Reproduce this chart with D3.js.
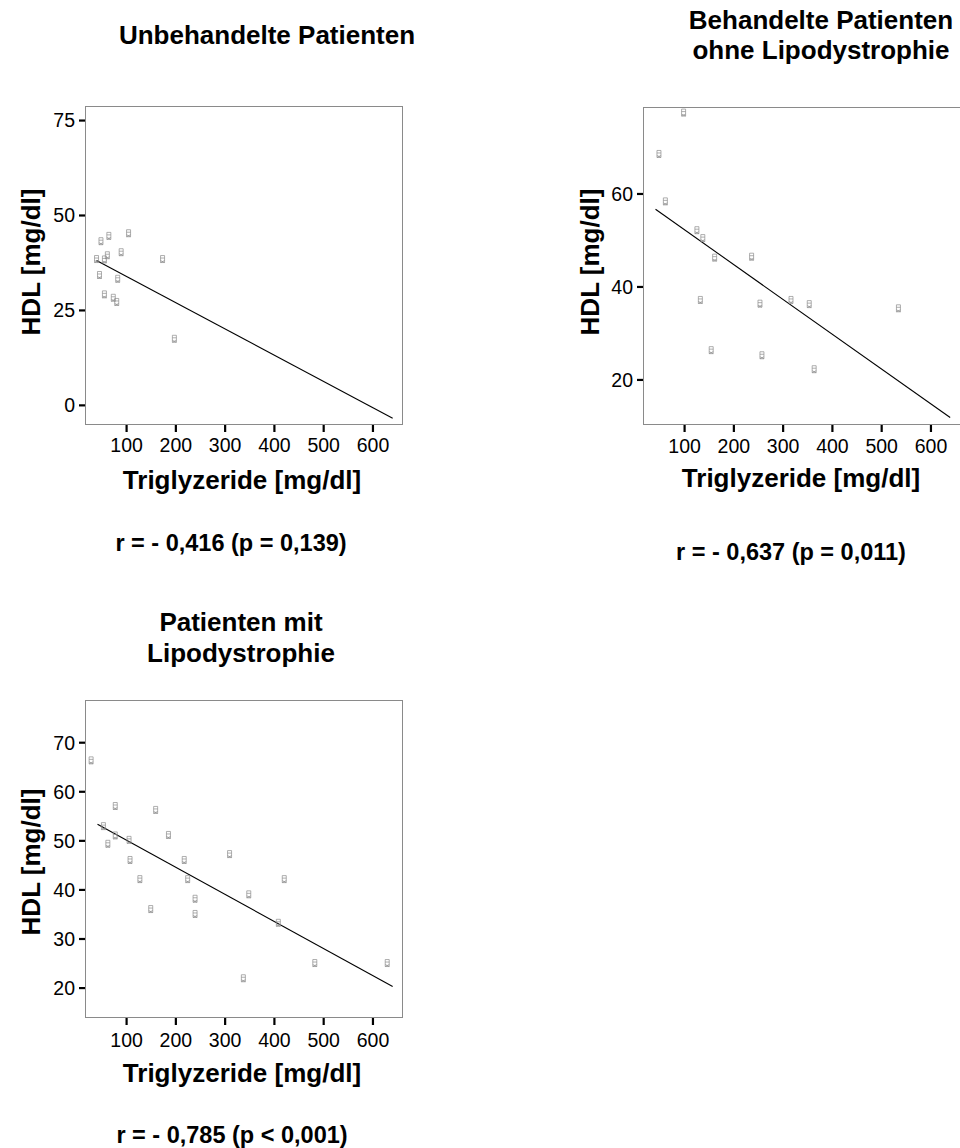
<!DOCTYPE html>
<html><head><meta charset="utf-8">
<script src="https://cdn.jsdelivr.net/npm/d3@7"></script>
<style>
body{margin:0;background:#fff}
svg{display:block}
text{font-family:"Liberation Sans",Arial,Helvetica,sans-serif;fill:#000}
</style>
</head><body>
<svg id="chart" width="960" height="1148"></svg>
<script>
// ---------- data ----------
const xTickValues = [100, 200, 300, 400, 500, 600];
const xAxisTitle = "Triglyzeride [mg/dl]";
const yAxisTitle = "HDL [mg/dl]";

// Panel 1: Unbehandelte Patienten
const p1Title = ["Unbehandelte Patienten"];
const p1TG  = [40, 49, 65, 105, 90, 56, 62, 174, 46, 83, 56, 74, 81, 198];
const p1HDL = [38.4, 43.1, 44.5, 45.2, 40.2, 38.3, 39.4, 38.4, 34.2, 33.2, 29.1, 28.2, 27.1, 17.4];
const p1Fit = [[40, 38.0], [641, -3.5]];
const p1YTicks = [0, 25, 50, 75];
const p1Stat = "r = - 0,416 (p = 0,139)";

// Panel 2: Behandelte Patienten ohne Lipodystrophie
const p2Title = ["Behandelte Patienten", "ohne Lipodystrophie"];
const p2TG  = [99, 49, 62, 126, 138, 162, 237, 133, 254, 317, 354, 535, 155, 258, 364];
const p2HDL = [77.4, 68.5, 58.3, 52.1, 50.4, 46.2, 46.4, 37.1, 36.3, 37.1, 36.2, 35.3, 26.3, 25.2, 22.2];
const p2Fit = [[42, 56.6], [640, 11.8]];
const p2YTicks = [20, 40, 60];
const p2Stat = "r = - 0,637 (p = 0,011)";

// Panel 3: Patienten mit Lipodystrophie
const p3Title = ["Patienten mit", "Lipodystrophie"];
const p3TG  = [29, 78, 160, 54, 78, 106, 186, 63, 108, 218, 310, 128, 225, 421, 240, 349, 150, 240, 409, 483, 630, 338];
const p3HDL = [66.3, 57.0, 56.2, 52.9, 51.0, 50.1, 51.1, 49.3, 46.0, 46.0, 47.2, 42.1, 42.1, 42.1, 38.1, 39.0, 36.0, 35.0, 33.2, 25.0, 25.0, 21.9];
const p3Fit = [[42, 53.3], [641, 20.2]];
const p3YTicks = [20, 30, 40, 50, 60, 70];
const p3Stat = "r = - 0,785 (p < 0,001)";

// ---------- layout ----------
const panels = [
  {title: p1Title, tg: p1TG, hdl: p1HDL, fit: p1Fit, yTicks: p1YTicks, stat: p1Stat,
   box: {l: 85, r: 403, t: 106, b: 425}, yDomain: [-5.3, 78.7],
   titleX: 267, titleY: [44], yTitleX: 40, yTitleY: 262,
   xLabelY: 452, xTitleX: 242, xTitleY: 489, statX: 231, statY: 551},
  {title: p2Title, tg: p2TG, hdl: p2HDL, fit: p2Fit, yTicks: p2YTicks, stat: p2Stat,
   box: {l: 643, r: 961, t: 107, b: 425}, yDomain: [10.2, 78.6],
   titleX: 821, titleY: [29, 59], yTitleX: 599, yTitleY: 262,
   xLabelY: 453, xTitleX: 801, xTitleY: 487, statX: 791, statY: 560},
  {title: p3Title, tg: p3TG, hdl: p3HDL, fit: p3Fit, yTicks: p3YTicks, stat: p3Stat,
   box: {l: 85, r: 403, t: 700, b: 1018}, yDomain: [13.8, 78.6],
   titleX: 241, titleY: [631, 662], yTitleX: 40, yTitleY: 862,
   xLabelY: 1047, xTitleX: 242, xTitleY: 1082, statX: 232, statY: 1143}
];

const svg = d3.select("#chart");

panels.forEach(p => {
  const g = svg.append("g");
  const x = d3.scaleLinear().domain([16.6, 662]).range([p.box.l, p.box.r]);
  const y = d3.scaleLinear().domain(p.yDomain).range([p.box.b, p.box.t]);

  // frame
  g.append("rect")
    .attr("x", p.box.l + 0.5).attr("y", p.box.t + 0.5)
    .attr("width", p.box.r - p.box.l - 1).attr("height", p.box.b - p.box.t - 1)
    .attr("fill", "none").attr("stroke", "#8a8a8a").attr("stroke-width", 1);

  // x axis
  const xAxis = d3.axisBottom(x).tickValues(xTickValues).tickSize(7).tickPadding(5).tickSizeOuter(0);
  const xg = g.append("g").attr("transform", `translate(0,${p.box.b})`).call(xAxis);
  xg.select(".domain").remove();
  xg.selectAll(".tick line").attr("stroke", "#000").attr("stroke-width", 2.2);
  xg.selectAll(".tick text").attr("font-size", 19.5).attr("fill", "#000")
    .attr("y", p.xLabelY - p.box.b).attr("dy", 0);

  // y axis
  const yAxis = d3.axisLeft(y).tickValues(p.yTicks).tickSize(6).tickPadding(4).tickSizeOuter(0);
  const yg = g.append("g").attr("transform", `translate(${p.box.l},0)`).call(yAxis);
  yg.select(".domain").remove();
  yg.selectAll(".tick line").attr("stroke", "#000").attr("stroke-width", 2.2);
  yg.selectAll(".tick text").attr("font-size", 19.5).attr("fill", "#000")
    .attr("x", -10).attr("dy", "0.35em");

  // fit line
  g.append("path")
    .datum(p.fit)
    .attr("d", d3.line().x(d => x(d[0])).y(d => y(d[1])))
    .attr("fill", "none").attr("stroke", "#000").attr("stroke-width", 1.1);

  // markers (tiny grey glyphs)
  const pts = p.tg.map((v, i) => [v, p.hdl[i]]);
  g.selectAll("path.pt").data(pts).enter().append("path")
    .attr("class", "pt")
    .attr("transform", d => `translate(${x(d[0])},${y(d[1])})`)
    .attr("d", "M-2,-3.5 h4 v7 h-4 z M-2,-1 h4 M-2,1.5 L2,3.5 M2,1.5 L-2,3.5")
    .attr("fill", "none").attr("stroke", "#8c8c8c").attr("stroke-width", 0.7);

  // panel title
  p.title.forEach((t, i) => {
    g.append("text").attr("x", p.titleX).attr("y", p.titleY[i])
      .attr("text-anchor", "middle").attr("font-size", 26).attr("font-weight", "bold").text(t);
  });

  // axis titles
  g.append("text").attr("x", p.xTitleX).attr("y", p.xTitleY)
    .attr("text-anchor", "middle").attr("font-size", 26).attr("font-weight", "bold").text(xAxisTitle);
  g.append("text").attr("transform", `translate(${p.yTitleX},${p.yTitleY}) rotate(-90)`)
    .attr("text-anchor", "middle").attr("font-size", 26).attr("font-weight", "bold").text(yAxisTitle);

  // statistic
  g.append("text").attr("x", p.statX).attr("y", p.statY)
    .attr("text-anchor", "middle").attr("font-size", 23.5).attr("font-weight", "bold").text(p.stat);
});
</script>
</body></html>
